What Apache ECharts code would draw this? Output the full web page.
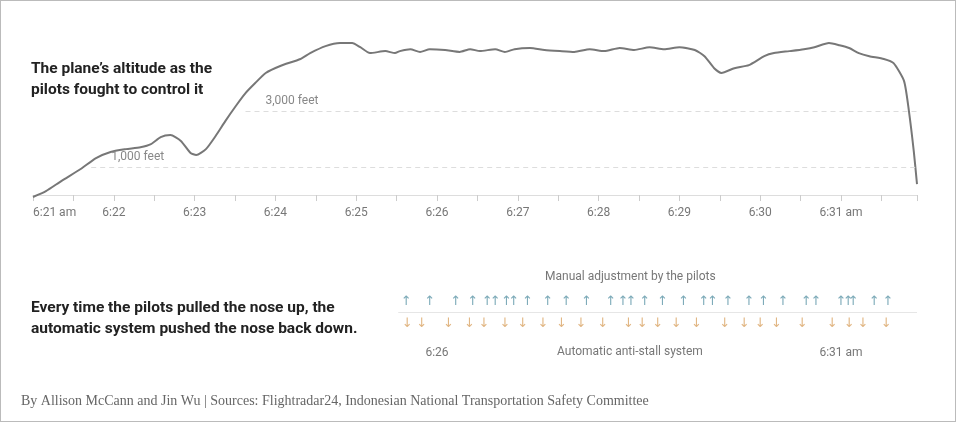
<!DOCTYPE html>
<html lang="en">
<head>
<meta charset="UTF-8">
<title>Altitude and nose adjustments</title>
<script src="https://cdn.jsdelivr.net/npm/echarts@6/dist/echarts.min.js"></script>
<style>
  html, body { margin: 0; padding: 0; background: #fff; }
  #main { width: 956px; height: 422px; box-sizing: border-box; border: 1px solid #bbb; }
</style>
</head>
<body>
<div id="main"></div>
<script>
// minutes after 6:21 and altitude in feet
const altMinutes = [0, .16, .35, .59, .78, .96, 1.15, 1.33, 1.46, 1.58, 1.70, 1.83, 1.95, 2.02, 2.14, 2.26, 2.38, 2.51, 2.63, 2.75, 2.88, 3.06, 3.31, 3.43, 3.62, 3.80, 3.95, 4.05, 4.17, 4.36, 4.48, 4.54, 4.67, 4.79, 4.91, 5.10, 5.28, 5.41, 5.53, 5.72, 5.84, 5.96, 6.15, 6.33, 6.52, 6.70, 6.89, 7.07, 7.26, 7.44, 7.63, 7.81, 8.0, 8.19, 8.31, 8.43, 8.52, 8.68, 8.86, 9.05, 9.17, 9.36, 9.54, 9.67, 9.85, 9.98, 10.10, 10.22, 10.35, 10.53, 10.65, 10.78, 10.84, 10.90, 10.94];
const altFeet = [-70, 140, 500, 930, 1320, 1540, 1640, 1710, 1820, 2070, 2140, 1930, 1500, 1430, 1640, 2110, 2640, 3180, 3640, 4000, 4360, 4610, 4860, 5070, 5320, 5430, 5430, 5280, 5070, 5140, 5070, 5140, 5210, 5110, 5210, 5180, 5110, 5210, 5140, 5210, 5110, 5210, 5250, 5180, 5140, 5110, 5210, 5140, 5250, 5180, 5280, 5210, 5280, 5180, 4960, 4530, 4360, 4530, 4640, 4960, 5070, 5140, 5210, 5280, 5430, 5350, 5250, 5070, 4960, 4860, 4710, 4070, 3000, 1570, 390];

// arrow times (minutes after 6:21)
const pilotUp = [4.62, 4.91, 5.23, 5.44, 5.62, 5.72, 5.86, 5.95, 6.12, 6.37, 6.60, 6.85, 7.15, 7.30, 7.40, 7.57, 7.79, 8.05, 8.30, 8.41, 8.60, 8.86, 9.04, 9.28, 9.57, 9.69, 10.0, 10.09, 10.15, 10.41, 10.58];
const systemDown = [4.63, 4.81, 5.14, 5.40, 5.58, 5.84, 6.06, 6.31, 6.54, 6.78, 7.05, 7.37, 7.54, 7.73, 7.96, 8.21, 8.56, 8.80, 9.00, 9.20, 9.52, 9.89, 10.10, 10.27, 10.56];

const topTickLabels = ['6:21 am', '6:22', '6:23', '6:24', '6:25', '6:26', '6:27', '6:28', '6:29', '6:30', '6:31 am'];
const bottomTickLabels = { 5: '6:26', 10: '6:31 am' };
const refLines = [{ v: 1000, from: 0.72, label: '1,000 feet' }, { v: 3000, from: 2.63, label: '3,000 feet' }];

const chart = echarts.init(document.getElementById('main'));
const sans = 'Roboto, "Noto Sans", sans-serif';

chart.setOption({
  animation: false,
  grid: [
    { left: 32, right: 38, top: 42, height: 154 },
    { left: 32, right: 38, top: 290, height: 43 }
  ],
  xAxis: [
    {
      gridIndex: 0, type: 'value', min: 0, max: 10.94, interval: 1,
      axisLine: { lineStyle: { color: '#ddd' } },
      axisTick: { show: true, length: 6, lineStyle: { color: '#ccc' } },
      minorTick: { show: true, splitNumber: 2, length: 6, lineStyle: { color: '#ccc' } },
      splitLine: { show: false },
      axisLabel: { color: '#777', fontSize: 12, fontFamily: sans, margin: 10, showMaxLabel: false,
        alignMinLabel: 'left',
        formatter: v => topTickLabels[Math.round(v)] || '' }
    },
    {
      gridIndex: 1, type: 'value', min: 0, max: 10.94, interval: 1,
      axisLine: { show: false }, axisTick: { show: false }, splitLine: { show: false },
      axisLabel: { color: '#777', fontSize: 12, fontFamily: sans, margin: 13, showMaxLabel: false,
        formatter: v => bottomTickLabels[Math.round(v)] || '' }
    }
  ],
  yAxis: [
    { gridIndex: 0, type: 'value', min: -70, max: 5430, show: false },
    { gridIndex: 1, type: 'value', min: 0, max: 2, show: false }
  ],
  series: [
    {
      type: 'line', xAxisIndex: 0, yAxisIndex: 0, showSymbol: false, smooth: 0.2,
      lineStyle: { color: '#777', width: 2 },
      data: altMinutes.map((m, i) => [m, altFeet[i]]),
      markLine: {
        silent: true, symbol: 'none',
        lineStyle: { color: '#ddd', type: [5, 4], width: 1 },
        label: { position: 'insideStartTop', color: '#888', fontSize: 12, fontFamily: sans, distance: [20, 4] },
        data: refLines.map(r => [
          { coord: [r.from, r.v], name: r.label, label: { formatter: r.label } },
          { coord: [10.94, r.v] }
        ])
      }
    },
    {
      type: 'scatter', xAxisIndex: 1, yAxisIndex: 1, symbolSize: 0,
      data: pilotUp.map(m => [m, 1.5]),
      label: { show: true, position: 'inside', formatter: '↑', color: '#5b95a6', fontSize: 13, fontFamily: 'DejaVu Sans' },
      markLine: {
        silent: true, symbol: 'none', label: { show: false },
        lineStyle: { color: '#e6e6e6', type: 'solid', width: 1 },
        data: [[{ coord: [4.52, 1] }, { coord: [10.94, 1] }]]
      }
    },
    {
      type: 'scatter', xAxisIndex: 1, yAxisIndex: 1, symbolSize: 0,
      data: systemDown.map(m => [m, 0.5]),
      label: { show: true, position: 'inside', formatter: '↓', color: '#d9a464', fontSize: 13, fontFamily: 'DejaVu Sans' }
    }
  ],
  graphic: [
    { type: 'text', left: 30, top: 58, style: { text: 'The plane\u2019s altitude as the\npilots fought to control it', font: 'bold 15.5px ' + sans, fill: '#222', lineHeight: 21 } },
    { type: 'text', left: 30, top: 297, style: { text: 'Every time the pilots pulled the nose up, the\nautomatic system pushed the nose back down.', font: 'bold 15.5px ' + sans, fill: '#222', lineHeight: 21 } },
    { type: 'text', left: 544, top: 270, style: { text: 'Manual adjustment by the pilots', font: '12px ' + sans, fill: '#777' } },
    { type: 'text', left: 556, top: 345, style: { text: 'Automatic anti-stall system', font: '12px ' + sans, fill: '#777' } },
    { type: 'text', left: 20, top: 393, style: { text: 'By Allison McCann and Jin Wu | Sources: Flightradar24, Indonesian National Transportation Safety Committee', font: '14px "Liberation Serif", serif', fill: '#666' } }
  ]
});
</script>
</body>
</html>
